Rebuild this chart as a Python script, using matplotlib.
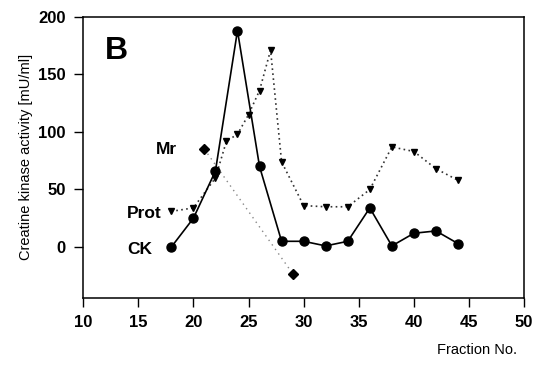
import matplotlib
matplotlib.use("Agg")
import matplotlib.pyplot as plt

plt.rcParams['font.family'] = ['Liberation Sans', 'DejaVu Sans']

# CK activity (circles, solid)
ck_x = [18, 20, 22, 24, 26, 28, 30, 32, 34, 36, 38, 40, 42, 44]
ck_y = [0, 25, 66, 188, 70, 5, 5, 1, 5, 34, 1, 12, 14, 3]

# protein (triangles, dotted)
prot_x = [18, 20, 22, 23, 24, 25, 26, 27, 28, 30, 32, 34, 36, 38, 40, 42, 44]
prot_y = [31, 34, 60, 92, 98, 115, 136, 171, 74, 36, 35, 35, 50, 87, 83, 68, 58]

# Mr markers (diamonds)
mr_x = [21, 29]
mr_y = [85, -23]

xticks = [10, 15, 20, 25, 30, 35, 40, 45, 50]
yticks = [0, 50, 100, 150, 200]

fig = plt.figure(figsize=(5.36, 3.74), dpi=100)
ax = fig.add_axes([0.155, 0.204, 0.823, 0.751])

ax.plot(mr_x, mr_y, linestyle=(0, (1, 3)), color='#888888', linewidth=1.0,
        marker='D', markersize=5.5, markerfacecolor='black', markeredgecolor='black')
ax.plot(prot_x, prot_y, linestyle=(0, (1, 2)), color='#333333', linewidth=1.2,
        marker='v', markersize=4, markerfacecolor='black', markeredgecolor='black')
ax.plot(ck_x, ck_y, linestyle='-', color='black', linewidth=1.2,
        marker='o', markersize=6.5, markerfacecolor='black', markeredgecolor='black')

ax.set_xlim(10, 50)
ax.set_ylim(-44, 200)
ax.set_xticks(xticks)
ax.set_yticks(yticks)
ax.tick_params(direction='out', length=6.5, width=1, labelsize=12, pad=6)
for lab in ax.get_xticklabels() + ax.get_yticklabels():
    lab.set_fontweight('bold')
for s in ax.spines.values():
    s.set_linewidth(1.1)

ax.set_ylabel('Creatine kinase activity [mU/ml]', fontsize=10.5, labelpad=4)
fig.text(0.965, 0.065, 'Fraction No.', fontsize=10.5, ha='right', va='center')

# series labels and panel letter
ax.text(18.5, 85, 'Mr', fontsize=12.5, fontweight='bold', ha='right', va='center')
ax.text(17.1, 29, 'Prot', fontsize=12.5, fontweight='bold', ha='right', va='center')
ax.text(16.3, -2, 'CK', fontsize=12.5, fontweight='bold', ha='right', va='center')
ax.text(12.0, 170, 'B', fontsize=23, fontweight='bold', ha='left', va='center')

fig.savefig('out.png', dpi=100)
